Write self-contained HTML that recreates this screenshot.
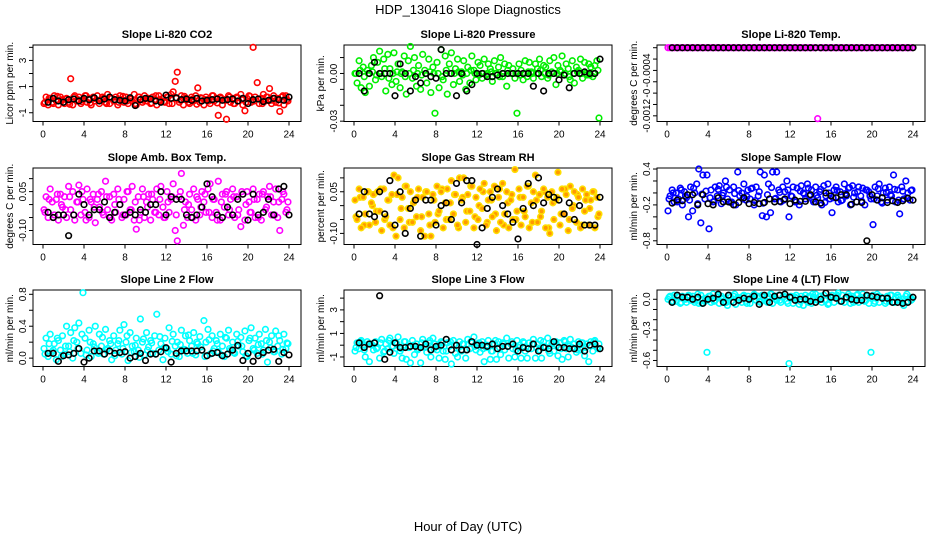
<!DOCTYPE html>
<html><head><meta charset="utf-8"><style>
html,body{margin:0;padding:0;background:#fff;}
svg{display:block;font-family:"Liberation Sans",Arial,sans-serif;}
</style></head><body>
<svg id="chart" width="936" height="540" viewBox="0 0 936 540">
<rect width="936" height="540" fill="#fff"/>
<text x="468" y="14" text-anchor="middle" font-size="13">HDP_130416  Slope Diagnostics</text>
<text x="468" y="531" text-anchor="middle" font-size="13">Hour of Day (UTC)</text>
</svg>
<script>
const hourTicks = [0,4,8,12,16,20,24];
const titles = ["Slope Li-820 CO2","Slope Li-820 Pressure","Slope Li-820 Temp.","Slope Amb. Box Temp.","Slope Gas Stream RH","Slope Sample Flow","Slope Line 2 Flow","Slope Line 3 Flow","Slope Line 4 (LT) Flow"];
const yTitles = ["Licor ppm per min.","kPa per min.","degrees C per min.","degrees C per min.","percent per min.","ml/min per min.","ml/min per min.","ml/min per min.","ml/min per min."];
const yDomains = [[-1.67,4.18],[-0.0302,0.0179],[-0.0013,0.0000479],[-0.154,0.141],[-0.140,0.1356],[-0.862,0.417],[-0.105,0.854],[-1.81,4.69],[-0.659,0.091]];
const yTickVals = [[-1,0,1,2,3,4],[-0.03,-0.02,-0.01,0,0.01],[0,-0.0002,-0.0004,-0.0006,-0.0008,-0.001,-0.0012],[0.1,0.05,0,-0.05,-0.1],[0.1,0.05,0,-0.05,-0.1],[0.4,0.2,0,-0.2,-0.4,-0.6,-0.8],[0,0.2,0.4,0.6,0.8],[-1,0,1,2,3,4],[0,-0.1,-0.2,-0.3,-0.4,-0.5,-0.6]];
const yTickLabelVals = [[-1,1,3],[-0.03,0],[-0.0004,-0.0008,-0.0012],[0.05,-0.1],[0.05,-0.1],[0.4,-0.2,-0.8],[0,0.4,0.8],[-1,1,3],[0,-0.3,-0.6]];
const yTickLabelText = [["-1","1","3"],["-0.03","0.00"],["-0.0004","-0","-0.0012"],["0.05","-0.10"],["0.05","-0.10"],["0.4","-0.2","-0.8"],["0.0","0.4","0.8"],["-1","1","3"],["0.0","-0.3","-0.6"]];
const seriesColors = ["#ff0000","#00ee00","#ff00ff","#ff00ff","#ffdd00","#0000ff","#00ffff","#00ffff","#00ffff"];

const co2Color = [-0.3,0.2,-0.4,0.1,-0.2,0.3,-0.1,-0.4,0.2,0,-0.3,0.1,-0.2,1.6,-0.4,0.3,-0.1,0.2,-0.3,0,0.3,-0.2,0.1,-0.4,0.2,-0.1,0.3,-0.3,0,0.1,-0.2,0.4,-0.3,0.1,-0.1,0.2,-0.4,0.3,0,-0.2,0.2,-0.3,0.1,-0.1,0.4,-0.4,0.2,0,-0.2,0.3,-0.1,0.1,-0.3,0.2,0,-0.4,0.3,-0.1,0.1,-0.2,0.2,-0.3,0.4,0.6,1.4,2.1,-0.2,0.3,-0.4,0.1,0,-0.3,0.2,-0.1,0.3,0.9,-0.2,0.1,-0.4,0.2,0,-0.3,0.3,-0.1,0.1,-1.2,0.2,-0.4,0,-1.5,0.3,-0.2,0.1,-0.3,0.2,-0.1,0.4,-0.4,-0.85,0.1,0.3,-0.2,4.0,0.2,1.3,-0.3,0.1,0.4,-0.1,0.2,0.85,-0.3,0.3,-0.2,0.1,-0.9,0.2,-0.4,0.3,-0.1];
const co2Extra = [-0.2,0.1,-0.3,0.25,-0.1,0.05,-0.35,0.2,0,-0.15,0.3,-0.25,0.1,-0.05,0.2,-0.3,0.15,0,-0.2,0.25,-0.1,0.05,-0.3,0.2,-0.05,0.1,-0.25,0.3,0,-0.15,0.2,-0.3,0.1,-0.05,0.25,-0.2,0.05,-0.35,0.15,0,-0.1,0.3,-0.25,0.1,-0.05,0.2,-0.3,0.15,0,-0.2,0.25,-0.1,0.05,-0.3,0.2,-0.05,0.1,-0.25,0.3,0];
const co2Black = [-0.2,0.1,-0.1,-0.2,0,0.05,-0.1,0.1,0,0.15,-0.1,0.05,0.2,0,-0.05,-0.1,0.15,-0.45,0,0.1,0.05,-0.1,-0.2,0.35,0.1,0.15,0,0.05,-0.05,0.1,-0.1,-0.05,0,0.05,-0.05,0,0.05,-0.1,0.1,-0.3,0,0.05,-0.15,-0.05,0.1,0,-0.05,0.2];
const presColor = [0,-.006,.008,-.009,.004,-.012,.002,-.008,.005,.01,-.004,.007,.014,-.002,.009,-.011,.012,.003,-.007,.013,-.005,.006,-.009,.001,.011,-.013,.008,.017,-.003,.01,-.008,.005,-.01,.012,.002,-.006,.009,-.012,.004,-.025,.007,-.009,.015,-.004,.011,-.013,.006,.013,-.007,.003,.009,-.005,.001,.008,-.01,.004,-.006,.011,.002,-.004,.007,.005,-.003,.009,-.001,.006,.003,-.005,.008,0,.004,.01,-.002,.006,-.008,.005,0,.003,-.003,-.025,.006,.002,-.004,.008,-.002,.007,.001,-.003,.006,.003,.009,-.002,.005,.004,-.003,.008,.001,.01,-.007,.005,.002,.011,-.001,.006,.003,-.004,.008,-.006,.004,.002,.009,-.003,.007,-.001,.006,.004,-.002,.005,.008,-.028];
const presExtra = [0,.002,-.002,0,.001,-.001,0,.003,-.003,0,.001,0,-.002,0,.002,0,-.001,0,.001,0,0,-.002,.002,0,0,.001,-.001,0,.002,0,-.001,0,0,.001,0,-.002,0,.002,0,0,-.001,0,.001,0,0,.002,0,-.001,0,0,.001,0,-.002,0,.001,0,0,-.001,0,.002];
const presBlack = [0,-.011,0,.007,0,0,0,-.014,.006,0,-.011,-.002,-.006,0,-.002,-.003,.015,0,0,-.014,0,-.011,-.007,0,0,-.002,-.002,-.001,0,0,0,0,0,0,-.008,0,-.011,0,0,-.004,-.001,-.009,0,0,.001,0,0,.009];
const tempColor = [0,0,0,0,0,0,0,0,0,0,0,0,0,0,0,0,0,0,0,0,0,0,0,0,0,0,0,0,0,0,0,0,0,0,0,0,0,0,0,0,0,0,0,0,0,0,0,0,0,0,0,0,0,0,0,0,0,0,0,0,0,0,0,0,0,0,0,0,0,0,0,0,0,-0.00125,0,0,0,0,0,0,0,0,0,0,0,0,0,0,0,0,0,0,0,0,0,0,0,0,0,0,0,0,0,0,0,0,0,0,0,0,0,0,0,0,0,0,0,0,0,0];
const tempExtra = [];
const tempBlack = [0,0,0,0,0,0,0,0,0,0,0,0,0,0,0,0,0,0,0,0,0,0,0,0,0,0,0,0,0,0,0,0,0,0,0,0,0,0,0,0,0,0,0,0,0,0,0,0];
const boxColor = [-0.02,.03,-.05,.06,.01,-.04,.02,-.06,.04,-.01,.03,-.05,.07,-.02,.05,-.06,.01,.075,-.04,.02,-.03,.06,-.05,.01,.04,-.07,.02,-.01,.05,-.04,.09,-.02,.03,-.06,.04,-.03,.06,0,-.05,.02,-.04,.05,-.02,.07,-.06,-.095,.03,-.03,.06,-.05,.01,.04,-.06,.02,-.03,.06,-.04,.07,-.01,-.05,.05,-.03,.02,.08,-.1,-.14,.03,.12,-.08,.01,-.05,.04,-.02,.06,-.06,.02,-.04,.05,.01,-.03,.06,.08,-.05,.02,-.03,.09,-.06,.04,-.01,.05,-.04,.02,.06,-.05,.03,-.02,-.085,.04,-.06,.05,.01,-.03,.06,-.05,.02,.04,-.06,.05,-.02,.03,.07,-.04,.01,.06,-.05,-.1,.02,.04,-.03,.01];
const boxExtra = [-.03,.02,-.05,.04,0,-.02,.03,-.04,.01,.05,-.06,.02,-.01,.04,-.03,.03,-.05,0,.02,-.04,.05,-.02,.01,-.06,.03,-.01,.04,-.03,.02,-.05,.01,.03,-.04,.05,-.02,0,-.05,.03,-.01,.04,-.03,.02,-.06,.01,.04,-.02,.03,-.04,.05,0,-.03,.02,-.05,.04,-.01,.03,-.04,.01,.05,-.02];
const boxBlack = [-.03,-.05,-.04,-.04,-.12,-.04,.04,0,-.04,-.02,-.02,.01,-.05,-.03,0,-.04,-.03,-.04,-.02,-.03,0,0,.05,-.04,.03,.02,.02,-.04,-.05,-.04,-.01,.08,.03,-.04,-.05,-.01,-.04,.02,.04,-.06,.04,-.04,-.03,.02,-.04,.06,.07,-.04];
const rhColor = [.02,-.05,.06,-.08,.03,-.03,.05,-.07,.01,.04,-.06,.05,-.02,-.09,.06,-.04,.02,-.07,.04,.11,-.11,.1,-.05,.03,-.08,.07,-.01,.05,-.06,.02,-.04,.06,-.09,.03,-.11,.05,-.03,-.11,.04,-.06,.07,-.02,.05,-.08,.01,.06,-.05,.09,-.03,.04,-.07,.1,.02,.1,-.06,.04,-.02,.07,-.08,.03,-.05,.06,-.01,.08,-.07,.02,.05,-.04,.07,-.09,.03,-.06,.08,-.03,.05,-.08,.02,-.05,.13,-.02,.06,-.07,.03,-.04,.07,-.08,.01,.05,.11,-.06,.04,-.02,.06,-.08,.03,-.1,.05,-.05,.02,.12,-.07,.06,-.03,.04,-.09,.07,-.01,.05,-.06,.03,-.08,.06,-.02,.04,-.07,.02,.05,-.08,.03,-.03];
const rhExtra = [-.04,.03,-.07,.05,0,-.02,.06,-.05,.02,-.08,.04,-.01,.07,-.06,.01,.03,-.04,.05,-.07,.02,-.03,.06,-.05,.01,.04,-.08,.03,-.02,.07,-.04,0,.05,-.06,.02,-.03,.06,-.07,.01,.04,-.05,.03,-.02,.07,-.06,.02,-.04,.05,-.08,.01,.03,-.03,.06,-.05,0,.04,-.07,.02,-.01,.05,-.04];
const rhBlack = [-.03,.05,-.03,-.04,.05,-.03,.09,-.07,.05,-.1,-.01,.02,-.11,.02,.02,-.07,0,.01,-.05,.08,.01,.09,.09,-.14,-.08,-.01,.03,.06,0,-.03,-.06,-.12,-.01,.08,0,.1,.01,.04,.03,.02,-.03,.01,-.05,0,-.07,-.07,-.07,.03];
const sampleColor = [-.3,-.05,.05,-.15,0,-.1,.08,-.2,.02,-.08,-.4,.1,-.3,0,.15,.4,-.5,.3,-.1,.3,-.6,.05,-.15,.1,-.05,.12,-.18,0,.2,-.1,.05,-.15,.1,-.2,.35,-.05,0,.15,-.12,.05,-.1,.08,-.2,.1,-.05,.35,-.38,.3,-.4,.15,-.33,.35,-.1,.35,.05,-.15,.1,.02,.2,-.4,-.05,.1,-.15,.08,-.2,.12,0,-.1,.15,-.05,.05,-.15,.1,-.08,.02,-.2,.12,-.05,.15,-.1,-.33,.05,.1,-.15,.02,-.12,.15,-.05,.08,-.2,.12,0,-.15,.1,-.05,.08,-.2,.05,.02,-.1,-.53,.1,-.05,.15,-.15,0,.08,-.12,.1,-.05,.3,-.15,.05,-.35,.1,-.1,.2,0,-.12,.05];
const sampleExtra = [-.1,0,-.15,.05,-.05,-.12,.08,-.18,-.02,.03,-.08,-.14,.06,-.04,.1,-.16,-.01,.04,-.1,-.06,.07,-.13,.02,-.17,-.03,.09,-.09,.01,-.12,.05,-.06,-.15,.03,-.02,.08,-.11,-.04,.06,-.16,0,-.08,.04,-.13,-.01,.09,-.07,.02,-.14,.05,-.05,-.1,.07,-.17,.01,-.03,.06,-.12,.03,-.08,.04];
const sampleBlack = [-.17,-.12,-.13,-.03,-.03,-.2,-.03,-.18,-.2,-.08,-.15,-.15,-.2,-.16,-.08,-.18,-.16,-.18,-.16,-.1,-.15,-.14,-.1,-.18,-.12,-.14,-.14,-.03,-.15,-.17,0,-.05,-.08,-.03,-.03,-.19,-.15,-.16,-.8,-.03,-.12,-.08,-.16,-.13,-.16,-.13,-.09,-.12];
const line2Color = [.12,.25,.02,.3,.08,.18,-.02,.22,.1,.28,.05,.4,.15,.32,0,.38,.2,.44,.06,.82,.25,.1,.35,.02,.18,.4,.08,.3,.15,.05,.36,.12,.22,-.02,.28,.1,.18,.35,.05,.42,.2,-.03,.32,.15,.08,.25,.1,.49,.2,.04,.32,.14,.22,.06,.28,.55,.1,.18,-.02,.25,.12,.38,.05,.3,.15,.2,.02,.35,.1,.28,.06,.22,.15,.32,.04,.18,.27,.1,.47,.2,.36,.05,.28,.12,.22,.08,.3,.15,.02,.25,.35,.1,.2,.06,.3,.15,.26,.08,.34,.02,.22,.38,.12,.25,.06,.3,.18,.1,.36,-.05,.2,.28,.08,.34,.15,.22,.05,.3,.12,.18];
const line2Extra = [.05,.18,.1,.25,.02,.15,.08,.22,.12,.3,.04,.2,.14,.06,.26,.1,.18,.03,.22,.12,.28,.07,.16,.01,.24,.1,.19,.05,.27,.13,.08,.21,.03,.17,.11,.29,.06,.2,.14,.02,.23,.09,.18,.04,.26,.12,.07,.21,.15,.03,.25,.1,.17,.05,.22,.13,.08,.28,.11,.19];
const line2Black = [.06,.06,-.04,.03,.04,.06,.12,-.05,0,.09,.09,.05,.09,.06,.07,.08,0,.02,.06,-.03,.05,.05,.08,.13,-.05,.06,.09,.09,.09,.09,.1,.03,.06,.07,.03,.05,.1,.16,-.03,.06,-.04,.03,.07,.1,.11,-.04,.07,.04];
const line3Color = [-.5,.2,-.3,.4,-.1,-1,.3,-1.4,.1,-.4,.3,-.2,-1.1,.5,-.6,.1,-.3,.6,-.1,-.7,.2,.7,-.5,-1.1,.3,-1.2,-.2,-1.5,.4,-.8,.1,-.3,-1.5,.5,-.2,-.6,.2,-1,.6,.1,-.4,-1.1,.3,-.5,-1.2,.2,-.1,-1.6,.4,-.7,-1,.3,-.5,.1,-1.1,.5,-.3,.2,.7,-.4,.1,-.6,.3,-1.4,-.2,.4,-1.2,-.5,.1,-1.2,.3,-.8,.2,-.4,.6,-1.1,.1,-.3,-1,.4,-.2,-1.1,.3,-.5,-1.1,.2,-.3,.5,-1.1,.1,-.4,-1.1,.3,-.2,.6,-.7,.1,-.5,.3,-.9,.2,-1.2,.4,-.3,-1,.5,-.2,.1,-.6,.3,-.4,.2,-.9,.1,-1.4,.3,-.5,.4,-.2,.1];
const line3Extra = [-.2,.3,-.4,.1,0,-.3,.2,-.5,.4,-.1,.1,-.3,.3,-.2,0,-.4,.2,-.1,.4,-.3,-.1,.2,-.5,.3,0,-.2,.1,-.4,.3,-.1,.2,-.3,0,-.5,.4,-.2,.1,-.1,.3,-.4,0,.2,-.3,.1,-.2,.4,-.1,-.5,.2,0,-.3,.3,-.1,.1,-.4,.2,-.2,0,.3,-.3];
const line3Black = [.2,-.2,.1,.2,4.2,-1.2,-.6,.2,-.2,-.2,-.1,-.1,-.2,.1,-.4,-.1,0,.5,-.4,0,-.4,-.4,.3,0,0,-.1,.1,-.3,-.1,-.1,.1,-.5,-.2,-.3,.1,-.5,-.2,-.3,.3,-.2,-.2,-.3,-.3,.1,-.5,0,.1,-.3];
const line4Color = [0,.03,-.03,.04,-.02,.02,-.04,.03,.01,-.03,.04,-.01,.03,-.03,.02,-.04,.04,0,-.02,-.52,.03,-.03,.05,-.01,.02,-.04,.03,.01,-.03,-.06,.04,-.02,.03,-.05,.02,.01,-.03,.04,-.02,.03,-.04,.02,.05,-.01,.03,-.03,.04,0,-.02,.03,.05,-.04,.02,-.01,.04,-.03,.02,.05,-.02,-.63,.03,-.04,.02,.01,-.05,.03,-.06,.04,-.02,.03,-.04,.02,.05,-.01,.03,-.03,.04,-.01,-.05,.02,.04,-.03,.03,.06,-.02,.04,-.03,.02,.05,-.04,.03,-.01,.04,-.03,.02,.05,-.02,.03,-.04,-.52,.04,-.02,.05,-.03,.02,.01,-.04,.03,-.02,.04,-.03,.02,.04,-.01,-.03,-.06,.03,-.02,.02,0];
const line4Extra = [.02,-.02,.04,-.03,0,.03,-.01,.05,-.04,.01,.03,-.02,.04,0,-.03,.02,.05,-.01,.03,-.04,.01,.04,-.02,.02,-.03,.05,0,-.01,.03,-.04,.02,.04,-.02,.01,-.03,.05,0,.03,-.01,-.04,.02,.04,-.02,.01,.03,-.03,.05,0,-.01,.02,-.04,.03,.01,-.02,.04,-.03,.02,0,.05,-.01];
const line4Black = [-.03,.04,.02,.02,0,.02,-.04,0,.01,.05,-.03,.04,-.03,-.01,.01,0,.03,-.05,.04,-.03,.03,.04,.05,.02,-.01,0,0,-.02,-.03,0,.06,.02,.01,-.02,.02,0,-.01,-.01,.04,.03,.02,.01,.01,-.03,-.03,-.04,-.03,.02];

const colorSeries = [co2Color,presColor,tempColor,boxColor,rhColor,sampleColor,line2Color,line3Color,line4Color];
const extraSeries = [co2Extra,presExtra,tempExtra,boxExtra,rhExtra,sampleExtra,line2Extra,line3Extra,line4Extra];
const blackSeries = [co2Black,presBlack,tempBlack,boxBlack,rhBlack,sampleBlack,line2Black,line3Black,line4Black];

const NS = "http://www.w3.org/2000/svg";
const svg = document.getElementById("chart");
const boxLefts = [33,344,657], boxTops = [45,168,290], BW = 268, BH = 76.5;
function mk(tag, attrs, parent){ const e=document.createElementNS(NS,tag); for(const k in attrs) e.setAttribute(k,attrs[k]); (parent||svg).appendChild(e); return e; }
function colorHour(i,n){ return 0.1 + i*(23.8/(n-1)); }
function extraHour(i,n){ return 0.2 + i*(23.6/(n-1)); }
function blackHour(i){ return 0.5 + i*0.5; }

for(let p=0;p<9;p++){
  const bx = boxLefts[p%3], by = boxTops[Math.floor(p/3)];
  const g = mk("g",{});
  
  
  const [ymin,ymax] = yDomains[p];
  const xs = h => bx + 10 + h*10.25;
  const ys = v => by + BH - (v-ymin)/(ymax-ymin)*BH;
  const box = mk("rect",{x:bx,y:by,width:BW,height:BH,fill:"none",stroke:"#000","stroke-width":1},g);
  
  
  const t = mk("text",{x:bx+BW/2,y:by-7,"text-anchor":"middle","font-size":11,"font-weight":"bold"},g);
  t.textContent = titles[p];
  
  
  const xa = mk("g",{},g);
  
  
  mk("line",{x1:xs(0),x2:xs(24),y1:by+BH,y2:by+BH,stroke:"#000"},xa);
  hourTicks.forEach(h=>{
    mk("line",{x1:xs(h),x2:xs(h),y1:by+BH,y2:by+BH+4,stroke:"#000"},xa);
    const l = mk("text",{x:xs(h),y:by+BH+16,"text-anchor":"middle","font-size":10},xa);
    l.textContent = h;
    
    
  });
  const ya = mk("g",{},g);
  
  
  const tv = yTickVals[p];
  mk("line",{x1:bx,x2:bx,y1:ys(Math.min(...tv)),y2:ys(Math.max(...tv)),stroke:"#000"},ya);
  tv.forEach(v=>{ mk("line",{x1:bx-4,x2:bx,y1:ys(v),y2:ys(v),stroke:"#000"},ya); });
  yTickLabelVals[p].forEach((v,k)=>{
    const yy = ys(v);
    const l = mk("text",{x:bx-7,y:yy,"text-anchor":"middle","font-size":10,transform:`rotate(-90 ${bx-7} ${yy})`},ya);
    l.textContent = yTickLabelText[p][k];
    
    
  });
  const yt = mk("text",{x:bx-20,y:by+BH/2,"text-anchor":"middle","font-size":10,transform:`rotate(-90 ${bx-20} ${by+BH/2})`},g);
  yt.textContent = yTitles[p];
  
  
  const cs = mk("g",{},g);
  
  
  const isRH = p===4;
  const ex = extraSeries[p];
  ex.forEach((v,i)=>{
    const c = mk("circle",{cx:xs(extraHour(i,ex.length)),cy:ys(v),r:2.8,fill:isRH?"#ff9900":"none",stroke:seriesColors[p],"stroke-width":1.6},cs);
    
    
  });
  const vals = colorSeries[p];
  vals.forEach((v,i)=>{
    const c = mk("circle",{cx:xs(colorHour(i,vals.length)),cy:ys(v),r:2.8,fill:isRH?"#ff9900":"none",stroke:seriesColors[p],"stroke-width":1.6},cs);
    
    
  });
  const bs = mk("g",{},g);
  
  
  blackSeries[p].forEach((v,i)=>{
    const c = mk("circle",{cx:xs(blackHour(i)),cy:ys(v),r:2.8,fill:"none",stroke:"#000","stroke-width":1.6},bs);
    
    
  });
}
</script>
</body></html>
